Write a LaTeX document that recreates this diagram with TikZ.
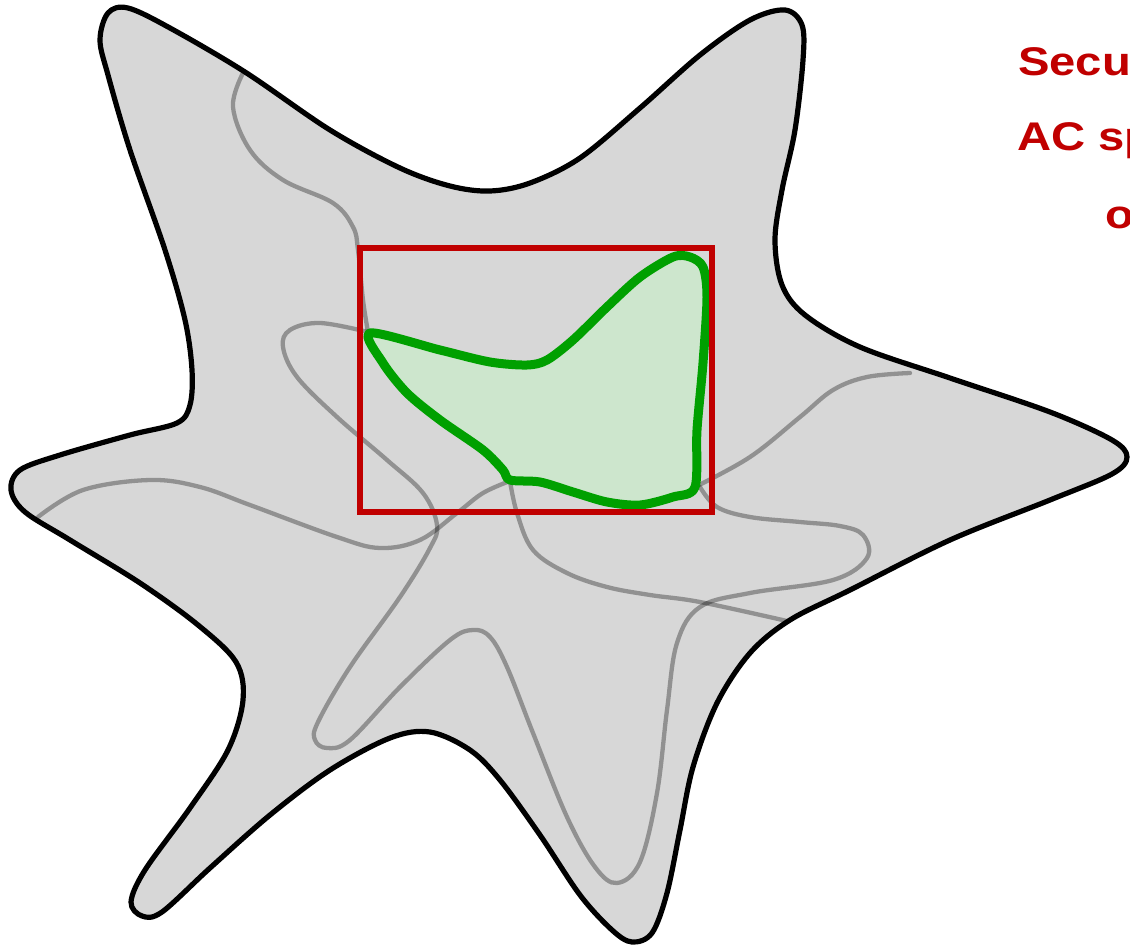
\documentclass[tikz,border=0pt]{standalone}
\usepackage{fontspec}
\setmainfont{Liberation Sans}
\definecolor{starfill}{RGB}{215,215,215}
\definecolor{darkred}{RGB}{192,0,0}
\definecolor{blobgreen}{RGB}{0,160,0}
\definecolor{blobfill}{RGB}{205,230,205}
\tikzset{
  outline/.style={draw=black, line width=5.2pt, line join=round},
  greycurve/.style={draw=black, draw opacity=0.32, line width=4.3pt, line cap=round},
  redbox/.style={draw=darkred, line width=6pt},
  blob/.style={draw=blobgreen, line width=9pt, fill=blobfill, line join=round},
  label/.style={anchor=base west, inner sep=0pt, text=darkred, font=\fontsize{40}{48}\selectfont\bfseries}
}
\begin{document}
\begin{tikzpicture}[x=1pt,y=-1pt]
\useasboundingbox (0,0) rectangle (1130,945);
\def\starpts{(100,40) (108,13) (128,8) (170,28) (245,72) (330,130) (400,168) (450,186) (490,191) (530,183)
 (580,158) (640,108) (700,55) (750,20) (785,10) (802,25) (803,60) (795,130) (782,190) (775,240)
 (782,285) (805,315) (860,347) (950,378) (1050,412) (1112,440) (1127,457) (1112,474) (1050,500)
 (950,540) (850,590) (790,620) (750,653) (717,703) (693,767) (680,830) (667,893) (652,933)
 (632,942) (612,930) (580,895) (540,835) (500,780) (470,750) (430,732) (390,738) (330,770)
 (270,815) (210,868) (162,912) (142,916) (131,902) (145,870) (190,808) (228,750) (243,700)
 (236,662) (198,625) (140,583) (70,540) (25,512) (11,490) (20,470) (60,455) (130,435) (177,423)
 (190,405) (192,370) (185,320) (165,250) (130,150) (108,75)}
% star fill
\fill[starfill] plot[smooth cycle, tension=0.55] coordinates {\starpts};
% grey curves
\draw[greycurve] plot[smooth, tension=0.6] coordinates {
 (243,73) (233,107) (250,150) (283,180) (333,203) (353,227) (358,250) (363,300) (368,332)};
\draw[greycurve] plot[smooth, tension=0.6] coordinates {
 (510,481) (517,513) (533,550) (567,573) (607,587) (650,595) (700,602) (787,621)};
\draw[greycurve] plot[smooth, tension=0.6] coordinates {
 (38,517) (83,490) (150,480) (200,487) (250,505) (337,537) (380,548) (420,540) (457,513) (483,493) (510,481)};
\draw[greycurve] plot[smooth, tension=0.6] coordinates {
 (695,487) (750,457) (800,417) (833,390) (867,377) (910,373)};
\draw[greycurve] plot[smooth, tension=0.6] coordinates {
 (368,332) (320,323) (290,330) (283,347) (297,377) (337,417) (387,460) (423,493) (437,525) (430,548)
 (400,597) (350,667) (318,722) (315,740) (327,748) (350,740) (400,687) (450,640) (473,630) (490,637)
 (507,667) (533,733) (567,817) (595,867) (617,883) (640,862) (657,793) (667,710) (677,643) (700,607)
 (750,593) (833,580) (867,558) (863,535) (840,526) (800,522) (750,517) (717,507) (700,487)};
% green blob
\path[blob] plot[smooth cycle, tension=0.5] coordinates {
 (370,333) (440,350) (490,362) (527,365) (547,360) (573,340) (607,307) (640,277) (673,257) (690,257)
 (703,267) (707,297) (703,363) (697,430) (695,487) (673,497) (640,505) (607,502) (573,492) (540,482)
 (510,480) (503,470) (483,450) (440,420) (407,393) (383,363)};
% red rectangle
\draw[redbox] (360,248) rectangle (712,512);
% star outline
\draw[outline] plot[smooth cycle, tension=0.55] coordinates {\starpts};
% text
\node[label] (t1) at (1018,75) {\scalebox{1.18}[1]{Secu}};
\node[label] (t2) at (1017,150) {\scalebox{1.18}[1]{AC sp}};
\node[label] (t3) at (1105,228) {\scalebox{1.18}[1]{o}};
\end{tikzpicture}
\end{document}
